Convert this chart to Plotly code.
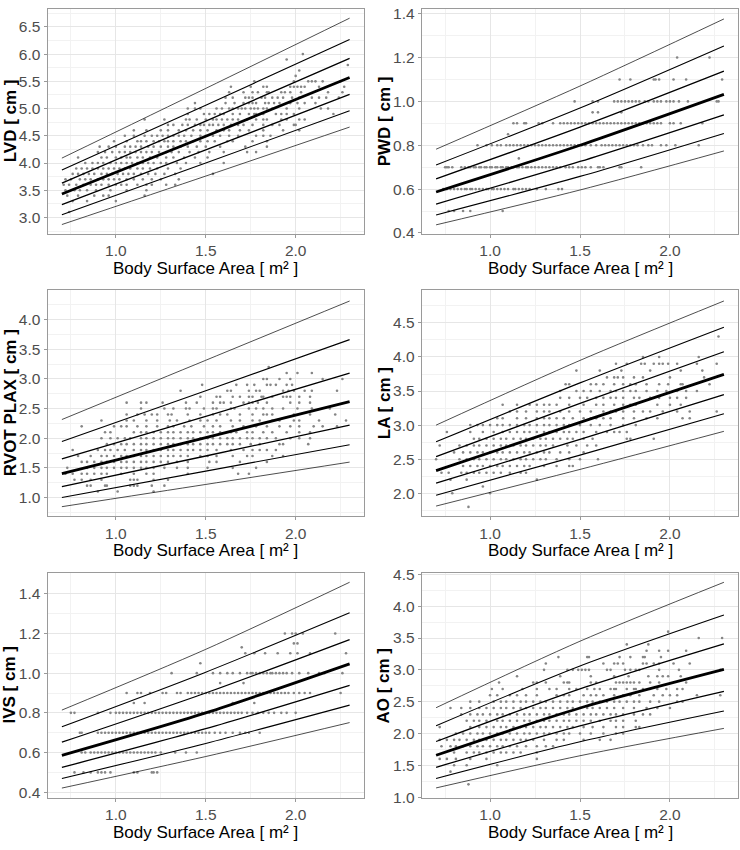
import plotly.graph_objects as go

# ---------------- data ----------------
bsa_knots = [0.7, 1.5, 2.3]

# centile curves, top (97th) to bottom (3rd), values at bsa_knots
lvd_centiles = [[4.09, 5.37, 6.66], [3.87, 5.06, 6.27], [3.63, 4.77, 5.92], [3.43, 4.49, 5.57],
                [3.235, 4.24, 5.26], [3.05, 4.00, 4.96], [2.87, 3.76, 4.66]]
pwd_centiles = [[0.782, 1.07, 1.376], [0.71, 0.97, 1.253], [0.647, 0.883, 1.138], [0.587, 0.80, 1.032],
                [0.532, 0.726, 0.939], [0.482, 0.658, 0.854], [0.437, 0.596, 0.774]]
rvot_centiles = [[2.315, 3.315, 4.315], [1.945, 2.80, 3.663], [1.652, 2.37, 3.10], [1.403, 2.01, 2.619],
                 [1.182, 1.70, 2.221], [1.0, 1.445, 1.89], [0.845, 1.22, 1.597]]
la_centiles = [[3.0, 3.95, 4.822], [2.755, 3.62, 4.438], [2.538, 3.32, 4.077], [2.332, 3.04, 3.745],
               [2.149, 2.79, 3.447], [1.971, 2.56, 3.168], [1.812, 2.35, 2.909]]
ivs_centiles = [[0.814, 1.12, 1.458], [0.73, 1.005, 1.304], [0.652, 0.90, 1.169], [0.586, 0.80, 1.047],
                [0.525, 0.72, 0.938], [0.469, 0.646, 0.839], [0.421, 0.58, 0.751]]
ao_centiles = [[2.405, 3.45, 4.376], [2.121, 3.06, 3.861], [1.874, 2.70, 3.408], [1.658, 2.40, 3.007],
               [1.468, 2.12, 2.662], [1.293, 1.87, 2.353], [1.144, 1.65, 2.08]]

# observations: measurement levels and the BSA values observed at each level
lvd_levels = [3.1, 3.3, 3.4, 3.5, 3.6, 3.7, 3.8, 3.9, 4.0, 4.1, 4.2, 4.3, 4.4, 4.5, 4.6, 4.7, 4.8, 4.9,
              5.0, 5.1, 5.2, 5.3, 5.4, 5.5, 5.6, 5.7, 5.8, 5.9, 6.0]
lvd_bsa = [
    [0.74],
    [0.76, 0.84, 1.0],
    [0.73, 0.79, 0.88, 0.93, 0.96, 1.16],
    [0.72, 0.77, 0.80, 0.84, 0.89, 0.97, 1.06, 1.17],
    [0.71, 0.74, 0.78, 0.82, 0.86, 0.89, 0.92, 0.96, 1.0, 1.03, 1.06, 1.12, 1.17, 1.2, 1.28, 1.33],
    [0.72, 0.75, 0.8, 0.83, 0.86, 0.9, 0.93, 0.96, 0.99, 1.02, 1.06, 1.1, 1.15, 1.2, 1.25, 1.35],
    [0.76, 0.79, 0.82, 0.85, 0.88, 0.92, 0.95, 0.98, 1.01, 1.04, 1.07, 1.1, 1.14, 1.18, 1.22, 1.27, 1.33, 1.54],
    [0.78, 0.81, 0.84, 0.87, 0.9, 0.93, 0.96, 0.99, 1.02, 1.05, 1.08, 1.12, 1.15, 1.19, 1.23, 1.29, 1.36],
    [0.83, 0.87, 0.9, 0.93, 0.97, 1.0, 1.03, 1.06, 1.09, 1.12, 1.15, 1.18, 1.21, 1.25, 1.28, 1.34, 1.39, 1.47, 1.6],
    [0.79, 0.92, 0.95, 1.0, 1.03, 1.06, 1.08, 1.12, 1.15, 1.19, 1.23, 1.28, 1.32, 1.38, 1.44, 1.51],
    [0.9, 0.94, 0.98, 1.02, 1.05, 1.08, 1.11, 1.14, 1.17, 1.2, 1.24, 1.28, 1.31, 1.35, 1.41, 1.46, 1.52, 1.6, 1.73, 1.78],
    [0.91, 0.96, 1.0, 1.05, 1.08, 1.11, 1.14, 1.18, 1.21, 1.25, 1.29, 1.32, 1.36, 1.4, 1.45, 1.5, 1.58, 1.72, 1.84],
    [0.99, 1.06, 1.12, 1.14, 1.17, 1.21, 1.24, 1.27, 1.29, 1.32, 1.36, 1.39, 1.43, 1.47, 1.51, 1.55, 1.62, 1.65, 1.76, 1.84],
    [1.05, 1.1, 1.16, 1.2, 1.23, 1.26, 1.29, 1.32, 1.35, 1.38, 1.42, 1.47, 1.5, 1.54, 1.58, 1.63, 1.68, 1.78, 1.82, 1.86],
    [1.1, 1.17, 1.25, 1.29, 1.35, 1.39, 1.43, 1.47, 1.51, 1.56, 1.6, 1.63, 1.69, 1.74, 1.82, 1.93, 2.02],
    [1.29, 1.32, 1.37, 1.4, 1.44, 1.47, 1.49, 1.52, 1.54, 1.57, 1.6, 1.64, 1.68, 1.71, 1.76, 1.82, 1.87, 1.91, 1.99, 2.0],
    [1.16, 1.27, 1.39, 1.41, 1.45, 1.5, 1.54, 1.56, 1.59, 1.62, 1.65, 1.68, 1.73, 1.78, 1.82, 1.84, 1.92, 1.95, 2.02, 2.05],
    [1.4, 1.49, 1.52, 1.55, 1.58, 1.6, 1.65, 1.69, 1.74, 1.77, 1.78, 1.82, 1.89, 1.92, 1.95, 1.99, 2.21],
    [1.4, 1.44, 1.47, 1.56, 1.59, 1.63, 1.65, 1.68, 1.7, 1.72, 1.75, 1.77, 1.79, 1.82, 1.84, 1.87, 1.95, 2.02, 2.14, 2.18],
    [1.44, 1.61, 1.66, 1.71, 1.74, 1.76, 1.78, 1.83, 1.85, 1.88, 1.91, 1.97, 2.01, 2.05, 2.11],
    [1.61, 1.65, 1.72, 1.74, 1.76, 1.81, 1.83, 1.87, 1.9, 1.93, 1.98, 2.02, 2.09, 2.13, 2.17, 2.24],
    [1.63, 1.71, 1.76, 1.79, 1.84, 1.85, 1.92, 1.94, 1.97, 2.03, 2.18, 2.26],
    [1.64, 1.75, 1.82, 1.84, 1.97, 1.99, 2.01, 2.03, 2.05, 2.13, 2.27],
    [1.77, 1.99, 2.07, 2.09, 2.11, 2.15, 2.25],
    [2.0], [2.02], [2.29], [1.95], [2.04],
]

pwd_levels = [0.5, 0.6, 0.7, 0.74, 0.8, 0.85, 0.9, 0.95, 1.0, 1.1, 1.2]
pwd_bsa = [
    [0.77, 0.80, 0.85, 0.89, 1.07],
    [0.74, 0.76, 0.78, 0.80, 0.82, 0.84, 0.86, 0.87, 0.89, 0.90, 0.92, 0.94, 0.96, 0.98, 0.99, 1.01, 1.02,
     1.04, 1.06, 1.08, 1.10, 1.13, 1.14, 1.16, 1.18, 1.20, 1.22, 1.26, 1.31, 1.38, 1.40],
    [0.75, 0.76, 0.77, 0.79, 0.84, 0.86, 0.88, 0.89, 0.91, 0.92, 0.94, 0.95, 0.97, 0.98, 1.00, 1.01, 1.03,
     1.04, 1.06, 1.07, 1.09, 1.10, 1.12, 1.13, 1.15, 1.16, 1.18, 1.20, 1.21, 1.23, 1.25, 1.27, 1.29, 1.31,
     1.33, 1.35, 1.37, 1.39, 1.42, 1.44, 1.46, 1.49, 1.51, 1.53, 1.56, 1.60, 1.61, 1.63, 1.72, 1.73, 1.84],
    [1.16],
    [0.93, 0.98, 1.01, 1.04, 1.06, 1.09, 1.11, 1.13, 1.15, 1.17, 1.19, 1.21, 1.23, 1.25, 1.27, 1.29, 1.31,
     1.33, 1.35, 1.37, 1.39, 1.41, 1.43, 1.45, 1.47, 1.49, 1.51, 1.53, 1.56, 1.59, 1.62, 1.64, 1.66, 1.68,
     1.70, 1.72, 1.74, 1.76, 1.78, 1.80, 1.82, 1.85, 1.88, 1.90, 1.95, 1.98, 2.03, 2.16],
    [1.10],
    [1.13, 1.15, 1.19, 1.20, 1.27, 1.29, 1.35, 1.39, 1.41, 1.43, 1.45, 1.47, 1.49, 1.51, 1.53, 1.55, 1.57,
     1.59, 1.61, 1.63, 1.65, 1.67, 1.69, 1.71, 1.73, 1.75, 1.77, 1.79, 1.81, 1.83, 1.85, 1.87, 1.89, 1.91,
     1.93, 1.95, 2.0, 2.02, 2.06, 2.18],
    [1.57, 1.60, 1.73],
    [1.47, 1.57, 1.60, 1.69, 1.71, 1.73, 1.75, 1.77, 1.79, 1.81, 1.83, 1.86, 1.88, 1.91, 1.93, 1.95, 1.98,
     2.00, 2.02, 2.05, 2.10, 2.26, 2.27],
    [1.72, 1.78, 1.91, 1.92, 1.94, 2.02, 2.09, 2.29],
    [2.04, 2.22],
]

rvot_levels = [1.1, 1.2, 1.3, 1.4, 1.5, 1.6, 1.7, 1.8, 1.9, 2.0, 2.1, 2.2, 2.3, 2.4, 2.5, 2.6, 2.7, 2.8,
               2.9, 3.0, 3.1, 3.2]
rvot_bsa = [
    [0.90, 1.01, 1.21],
    [0.84, 0.86, 0.94, 0.95, 1.08, 1.10, 1.12, 1.20, 1.27],
    [0.77, 0.81, 0.86, 0.92, 1.08, 1.10, 1.12, 1.21, 1.29],
    [0.72, 0.76, 0.81, 0.84, 0.88, 0.92, 0.95, 1.03, 1.10, 1.17, 1.21, 1.40, 1.68, 1.74],
    [0.73, 0.84, 0.88, 0.92, 0.95, 0.99, 1.03, 1.06, 1.10, 1.14, 1.17, 1.21, 1.27, 1.34, 1.40, 1.51, 1.65, 1.78],
    [0.81, 0.84, 0.88, 0.92, 0.95, 0.99, 1.03, 1.06, 1.10, 1.14, 1.17, 1.21, 1.25, 1.29, 1.34, 1.40, 1.52,
     1.56, 1.69, 1.84],
    [0.79, 0.86, 0.92, 0.95, 0.99, 1.03, 1.06, 1.10, 1.14, 1.17, 1.21, 1.25, 1.29, 1.32, 1.36, 1.40, 1.47,
     1.51, 1.56, 1.65, 1.73, 1.76, 1.87, 1.93],
    [0.76, 0.90, 0.94, 0.97, 1.01, 1.05, 1.10, 1.14, 1.17, 1.21, 1.25, 1.29, 1.32, 1.36, 1.40, 1.43, 1.47,
     1.51, 1.56, 1.64, 1.71, 1.76, 1.80, 1.84, 1.89],
    [0.95, 0.99, 1.03, 1.06, 1.10, 1.14, 1.17, 1.21, 1.25, 1.29, 1.32, 1.36, 1.40, 1.43, 1.47, 1.51, 1.54,
     1.58, 1.62, 1.65, 1.69, 1.75, 1.80, 1.91, 1.93, 2.07],
    [0.92, 0.97, 1.01, 1.05, 1.08, 1.14, 1.17, 1.21, 1.25, 1.29, 1.32, 1.36, 1.40, 1.43, 1.47, 1.51, 1.54,
     1.58, 1.62, 1.65, 1.69, 1.73, 1.76, 1.80, 1.84, 1.89, 1.97, 2.02, 2.08],
    [0.94, 0.97, 1.10, 1.14, 1.17, 1.21, 1.25, 1.29, 1.32, 1.36, 1.40, 1.43, 1.47, 1.51, 1.54, 1.58, 1.64,
     1.67, 1.73, 1.76, 1.82, 1.87, 1.95, 2.02, 2.08],
    [0.81, 0.99, 1.03, 1.06, 1.12, 1.17, 1.23, 1.29, 1.32, 1.38, 1.42, 1.49, 1.54, 1.58, 1.65, 1.71, 1.78,
     1.84, 1.91, 1.97, 2.02, 2.10, 2.15, 2.23],
    [0.92, 1.06, 1.10, 1.17, 1.23, 1.30, 1.34, 1.41, 1.47, 1.51, 1.56, 1.64, 1.69, 1.76, 1.80, 1.87, 1.91,
     1.99, 2.02, 2.13, 2.28],
    [1.06, 1.12, 1.16, 1.20, 1.23, 1.29, 1.31, 1.40, 1.47, 1.54, 1.58, 1.62, 1.69, 1.76, 1.82, 1.84, 1.87,
     1.99, 2.08, 2.22],
    [1.14, 1.27, 1.32, 1.39, 1.41, 1.49, 1.54, 1.56, 1.64, 1.66, 1.74, 1.78, 1.82, 1.87, 1.93, 2.01, 2.09, 2.19],
    [1.06, 1.14, 1.17, 1.26, 1.39, 1.45, 1.54, 1.58, 1.60, 1.64, 1.71, 1.74, 1.76, 1.79, 1.84, 1.97, 2.02, 2.08],
    [1.47, 1.56, 1.58, 1.65, 1.69, 1.74, 1.76, 1.81, 1.82, 1.87, 1.93, 1.95, 1.97, 2.02, 2.08],
    [1.36, 1.62, 1.64, 1.74, 1.78, 1.80, 1.93, 1.96, 1.99, 2.05, 2.09, 2.23],
    [1.48, 1.67, 1.73, 1.77, 1.84, 1.86, 1.89, 1.95, 1.98],
    [1.82, 1.84, 1.91, 1.97, 2.15, 2.26],
    [1.95, 2.01, 2.09],
    [1.85],
]

la_levels = [1.8, 2.0, 2.1, 2.2, 2.3, 2.4, 2.5, 2.6, 2.7, 2.8, 2.9, 3.0, 3.1, 3.2, 3.3, 3.4, 3.5, 3.6,
             3.7, 3.8, 3.9, 4.0, 4.3]
la_bsa = [
    [0.88],
    [0.79, 1.0],
    [0.96],
    [0.78, 0.87, 1.26],
    [0.73, 0.77, 0.84, 0.87, 0.91, 0.94, 0.98, 1.02, 1.06, 1.11, 1.17, 1.20],
    [0.85, 0.89, 0.93, 0.96, 1.0, 1.04, 1.07, 1.11, 1.15, 1.19, 1.22, 1.30, 1.37, 1.44, 1.46],
    [0.70, 0.83, 0.87, 0.91, 0.94, 0.98, 1.02, 1.06, 1.09, 1.13, 1.17, 1.20, 1.24, 1.28, 1.31, 1.37, 1.44,
     1.50, 1.60],
    [0.80, 0.85, 0.89, 0.93, 0.96, 1.0, 1.04, 1.07, 1.11, 1.15, 1.19, 1.22, 1.26, 1.30, 1.33, 1.39, 1.44, 1.52],
    [0.72, 0.83, 0.87, 0.91, 0.94, 0.98, 1.02, 1.06, 1.09, 1.13, 1.17, 1.20, 1.24, 1.28, 1.31, 1.35, 1.43,
     1.48, 1.54, 1.59],
    [0.91, 0.94, 0.98, 1.02, 1.06, 1.09, 1.13, 1.17, 1.20, 1.24, 1.28, 1.31, 1.35, 1.39, 1.43, 1.46, 1.52,
     1.57, 1.76, 1.78, 1.91],
    [0.76, 0.89, 0.96, 1.02, 1.07, 1.11, 1.15, 1.19, 1.22, 1.26, 1.30, 1.33, 1.37, 1.41, 1.44, 1.48, 1.52,
     1.59, 1.65, 1.69, 1.72, 1.76],
    [0.89, 0.93, 0.96, 1.0, 1.04, 1.07, 1.11, 1.15, 1.19, 1.22, 1.26, 1.30, 1.33, 1.37, 1.41, 1.44, 1.50,
     1.56, 1.61, 1.67, 1.74, 1.81],
    [1.04, 1.07, 1.15, 1.20, 1.26, 1.30, 1.33, 1.37, 1.41, 1.46, 1.52, 1.56, 1.59, 1.63, 1.67, 1.74, 1.80,
     1.87, 1.93, 2.07, 2.11],
    [1.11, 1.15, 1.20, 1.26, 1.30, 1.33, 1.39, 1.44, 1.50, 1.56, 1.63, 1.67, 1.70, 1.74, 1.80, 1.85, 1.89,
     1.96, 2.04, 2.11, 2.26],
    [1.07, 1.15, 1.22, 1.26, 1.30, 1.33, 1.37, 1.44, 1.52, 1.59, 1.63, 1.69, 1.74, 1.78, 1.81, 1.93, 2.0, 2.06],
    [1.39, 1.44, 1.50, 1.54, 1.59, 1.63, 1.67, 1.70, 1.74, 1.80, 1.83, 1.89, 1.94, 2.0, 2.04, 2.09],
    [1.39, 1.48, 1.52, 1.56, 1.61, 1.67, 1.70, 1.74, 1.78, 1.81, 1.87, 1.93, 1.98, 2.04, 2.09, 2.15],
    [1.42, 1.44, 1.56, 1.59, 1.63, 1.69, 1.74, 1.78, 1.81, 1.87, 1.94, 1.99, 2.06, 2.07, 2.22],
    [1.65, 1.69, 1.71, 1.74, 1.80, 1.85, 2.0, 2.19],
    [1.48, 1.61, 1.73, 1.89, 2.06, 2.18],
    [1.70, 1.76, 1.84, 1.86, 1.91, 1.94, 1.96, 1.99, 2.04, 2.15, 2.26],
    [1.85, 1.94, 2.16],
    [2.27],
]

ivs_levels = [0.5, 0.6, 0.7, 0.8, 0.85, 0.9, 0.95, 1.0, 1.05, 1.1, 1.13, 1.15, 1.2]
ivs_bsa = [
    [0.77, 0.82, 0.86, 0.90, 0.92, 0.94, 0.97, 1.10, 1.12, 1.20, 1.21, 1.23],
    [0.81, 0.83, 0.86, 0.88, 0.90, 0.92, 0.94, 0.96, 0.98, 1.00, 1.02, 1.04, 1.06, 1.08, 1.10, 1.12, 1.14,
     1.16, 1.18, 1.20, 1.22, 1.25, 1.33, 1.39, 1.45],
    [0.80, 0.81, 0.90, 0.92, 0.94, 0.96, 0.98, 1.00, 1.02, 1.04, 1.06, 1.08, 1.10, 1.12, 1.14, 1.16, 1.18,
     1.20, 1.22, 1.24, 1.26, 1.28, 1.30, 1.32, 1.34, 1.36, 1.38, 1.40, 1.42, 1.44, 1.46, 1.48, 1.50, 1.52,
     1.55, 1.58, 1.61, 1.65, 1.69, 1.72, 1.74, 1.80],
    [0.75, 0.77, 0.90, 0.97, 1.00, 1.02, 1.04, 1.06, 1.08, 1.10, 1.12, 1.14, 1.16, 1.18, 1.20, 1.22, 1.24,
     1.26, 1.28, 1.30, 1.32, 1.34, 1.36, 1.38, 1.40, 1.42, 1.44, 1.46, 1.48, 1.50, 1.52, 1.54, 1.56, 1.58,
     1.60, 1.62, 1.64, 1.66, 1.68, 1.70, 1.73, 1.76, 1.79, 1.82, 1.85, 1.88, 1.92, 1.95, 2.0],
    [1.10, 1.16, 1.65, 1.77],
    [1.06, 1.12, 1.14, 1.19, 1.26, 1.28, 1.34, 1.36, 1.40, 1.42, 1.44, 1.46, 1.48, 1.50, 1.52, 1.54, 1.56,
     1.58, 1.60, 1.62, 1.64, 1.66, 1.68, 1.70, 1.72, 1.74, 1.76, 1.78, 1.80, 1.82, 1.84, 1.86, 1.88, 1.90,
     1.92, 1.94, 1.96, 1.99, 2.02, 2.05, 2.08, 2.25],
    [1.58, 1.71],
    [1.31, 1.45, 1.54, 1.58, 1.62, 1.65, 1.69, 1.73, 1.75, 1.76, 1.78, 1.80, 1.82, 1.84, 1.86, 1.87, 1.89,
     1.91, 1.93, 1.95, 1.98, 2.02, 2.07, 2.13, 2.16, 2.26],
    [1.47],
    [1.72, 1.77, 1.83, 1.90, 1.97, 2.01, 2.08, 2.28],
    [1.70],
    [1.99, 2.01],
    [1.94, 1.98, 2.0, 2.04, 2.22],
]

ao_levels = [1.2, 1.4, 1.5, 1.6, 1.7, 1.8, 1.9, 2.0, 2.1, 2.2, 2.3, 2.4, 2.5, 2.6, 2.7, 2.8, 2.9, 3.0,
             3.1, 3.2, 3.3, 3.4, 3.5, 3.6]
ao_bsa = [
    [0.88],
    [0.78],
    [0.80, 0.87, 1.04],
    [0.72, 0.76, 0.81, 0.89, 0.98, 1.26],
    [0.80, 0.87, 0.91, 0.94, 0.98, 1.02, 1.06, 1.09, 1.13, 1.17, 1.26],
    [0.73, 0.78, 0.81, 0.85, 0.89, 0.93, 0.96, 1.0, 1.04, 1.07, 1.11, 1.15, 1.20, 1.26, 1.31, 1.35],
    [0.72, 0.76, 0.80, 0.83, 0.87, 0.91, 0.94, 0.98, 1.02, 1.06, 1.09, 1.13, 1.17, 1.20, 1.24, 1.30, 1.37,
     1.41, 1.52, 1.61, 1.67],
    [0.81, 0.85, 0.89, 0.93, 0.96, 1.0, 1.04, 1.07, 1.11, 1.15, 1.19, 1.22, 1.26, 1.30, 1.33, 1.37, 1.41,
     1.44, 1.50, 1.56, 1.63, 1.70, 1.74],
    [0.72, 0.89, 0.94, 0.98, 1.02, 1.06, 1.09, 1.13, 1.17, 1.20, 1.24, 1.28, 1.31, 1.35, 1.39, 1.43, 1.46,
     1.52, 1.57, 1.63, 1.70, 1.74, 1.81, 1.83],
    [0.87, 0.91, 0.94, 0.98, 1.04, 1.07, 1.11, 1.15, 1.19, 1.22, 1.26, 1.30, 1.33, 1.37, 1.41, 1.44, 1.48,
     1.52, 1.56, 1.61, 1.67, 1.70, 1.74, 1.81],
    [0.84, 0.89, 0.93, 0.96, 1.0, 1.04, 1.07, 1.11, 1.15, 1.19, 1.22, 1.26, 1.30, 1.33, 1.37, 1.41, 1.44,
     1.48, 1.52, 1.56, 1.59, 1.63, 1.67, 1.70, 1.74, 1.80, 1.85, 1.89],
    [0.78, 0.84, 0.89, 0.94, 0.98, 1.02, 1.06, 1.09, 1.13, 1.17, 1.20, 1.24, 1.28, 1.31, 1.35, 1.39, 1.43,
     1.46, 1.50, 1.54, 1.57, 1.61, 1.65, 1.69, 1.74, 1.80, 1.87, 1.93, 2.0],
    [0.89, 0.94, 1.02, 1.06, 1.09, 1.13, 1.17, 1.20, 1.24, 1.28, 1.31, 1.35, 1.39, 1.43, 1.46, 1.50, 1.54,
     1.57, 1.61, 1.65, 1.69, 1.72, 1.76, 1.80, 1.83, 1.89, 1.94, 2.04, 2.07],
    [1.0, 1.04, 1.11, 1.15, 1.20, 1.26, 1.37, 1.41, 1.44, 1.52, 1.56, 1.59, 1.63, 1.69, 1.74, 1.78, 1.83,
     1.91, 1.96, 2.0, 2.04, 2.15, 2.28],
    [1.01, 1.07, 1.18, 1.26, 1.33, 1.37, 1.44, 1.48, 1.54, 1.58, 1.61, 1.67, 1.69, 1.70, 1.76, 1.80, 1.81,
     1.85, 1.89, 1.93, 1.98, 2.04, 2.07],
    [1.05, 1.24, 1.26, 1.31, 1.41, 1.43, 1.44, 1.56, 1.59, 1.70, 1.72, 1.74, 1.76, 1.78, 1.80, 1.83, 1.89,
     1.94, 2.09],
    [1.15, 1.39, 1.56, 1.69, 1.77, 1.88, 1.93, 1.96, 1.99, 2.06],
    [1.30, 1.43, 1.46, 1.49, 1.51, 1.53, 1.55, 1.65, 1.67, 1.75, 1.78, 1.81, 1.83, 1.94, 2.05, 2.28],
    [1.31, 1.63, 1.69, 1.71, 1.74, 1.85, 1.87, 1.91, 1.94, 2.02, 2.11],
    [1.38, 1.54, 1.55, 1.72, 1.78, 1.85, 1.86, 1.95],
    [1.87, 1.94, 1.99, 2.09],
    [1.76, 1.88],
    [2.16, 2.29],
    [1.99],
]

# ---------------- figure ----------------
W, H = 740, 850
FONT = "Liberation Sans, Arial, Helvetica, sans-serif"
TICK_COLOR = "#4D4D4D"
BORDER = "#9a9a9a"
centile_widths = [0.7, 1.1, 1.3, 2.8, 1.3, 1.1, 0.7]

left_dom = [47.5 / W, 364.0 / W]
right_dom = [421.7 / W, 738.3 / W]
rows_px = [(2.0, 230.7), (288.3, 518.3), (576.5, 805.0)]

panels = [
    dict(title="LVD [ cm ]", levels=lvd_levels, bsa=lvd_bsa, cent=lvd_centiles,
         yr=[2.703, 6.829], dt=0.5, col=0, row=0),
    dict(title="PWD [ cm ]", levels=pwd_levels, bsa=pwd_bsa, cent=pwd_centiles,
         yr=[0.397, 1.4215], dt=0.2, col=1, row=0),
    dict(title="RVOT PLAX [ cm ]", levels=rvot_levels, bsa=rvot_bsa, cent=rvot_centiles,
         yr=[0.685, 4.497], dt=0.5, col=0, row=1),
    dict(title="LA [ cm ]", levels=la_levels, bsa=la_bsa, cent=la_centiles,
         yr=[1.664, 4.98], dt=0.5, col=1, row=1),
    dict(title="IVS [ cm ]", levels=ivs_levels, bsa=ivs_bsa, cent=ivs_centiles,
         yr=[0.372, 1.503], dt=0.2, col=0, row=2),
    dict(title="AO [ cm ]", levels=ao_levels, bsa=ao_bsa, cent=ao_centiles,
         yr=[0.989, 4.517], dt=0.5, col=1, row=2),
]

fig = go.Figure()
annotations = []
layout_axes = {}

for i, p in enumerate(panels, start=1):
    xa = "x" if i == 1 else f"x{i}"
    ya = "y" if i == 1 else f"y{i}"
    xs, ys = [], []
    for lev, row_bsa in zip(p["levels"], p["bsa"]):
        for b in row_bsa:
            xs.append(b)
            ys.append(lev)
    fig.add_trace(go.Scatter(x=xs, y=ys, mode="markers", xaxis=xa, yaxis=ya,
                             marker=dict(size=2.6, color="#858585", line=dict(width=0)),
                             showlegend=False, hoverinfo="skip"))
    for c, w in zip(p["cent"], centile_widths):
        fig.add_trace(go.Scatter(x=bsa_knots, y=c, mode="lines", xaxis=xa, yaxis=ya,
                                 line=dict(color="black", width=w, shape="spline", smoothing=0.8),
                                 showlegend=False, hoverinfo="skip"))

    top_px, bot_px = rows_px[p["row"]]
    xdom = left_dom if p["col"] == 0 else right_dom
    ydom = [1 - bot_px / H, 1 - top_px / H]
    common = dict(showline=True, mirror=True, linecolor=BORDER, linewidth=1,
                  ticks="outside", ticklen=3, tickcolor=BORDER, tickwidth=1,
                  showgrid=True, gridcolor="#E6E6E6", gridwidth=1, zeroline=False,
                  tickfont=dict(family=FONT, size=15.5, color=TICK_COLOR), tickformat=".1f")
    layout_axes["xaxis" if i == 1 else f"xaxis{i}"] = dict(
        domain=xdom, anchor=ya, range=[0.62, 2.38], tick0=0, dtick=0.5,
        minor=dict(dtick=0.25, tick0=0, showgrid=True, gridcolor="#F2F2F2", gridwidth=0.6, ticks=""),
        **common)
    layout_axes["yaxis" if i == 1 else f"yaxis{i}"] = dict(
        domain=ydom, anchor=xa, range=p["yr"], tick0=0, dtick=p["dt"],
        minor=dict(dtick=p["dt"] / 2, tick0=0, showgrid=True, gridcolor="#F2F2F2", gridwidth=0.6, ticks=""),
        **common)

    xc = (xdom[0] + xdom[1]) / 2
    annotations.append(dict(text="Body Surface Area [ m² ]", x=xc, xref="paper",
                            y=1 - (bot_px + 35.0) / H, yref="paper", xanchor="center", yanchor="middle",
                            showarrow=False, font=dict(family=FONT, size=17, color="black")))
    ytx = 10 if p["col"] == 0 else 384
    annotations.append(dict(text=f"<b>{p['title']}</b>", x=ytx / W, xref="paper",
                            y=1 - (top_px + bot_px) / 2 / H, yref="paper", xanchor="center",
                            yanchor="middle", textangle=-90, showarrow=False,
                            font=dict(family=FONT, size=17, color="black")))

fig.update_layout(width=W, height=H, margin=dict(l=0, r=0, t=0, b=0),
                  paper_bgcolor="white", plot_bgcolor="white",
                  annotations=annotations, **layout_axes)

fig.write_html("out.html", config={"displayModeBar": False},
               post_script="document.body.style.margin='0px';")
